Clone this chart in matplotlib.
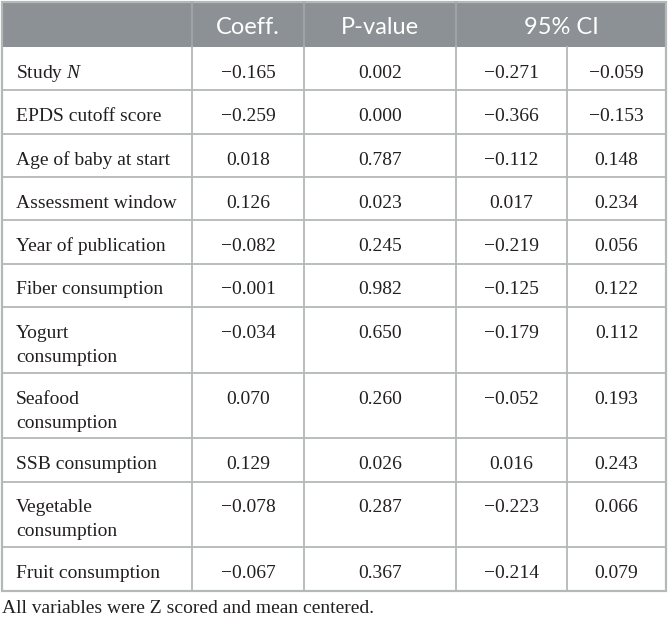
import matplotlib
matplotlib.use("Agg")
import matplotlib.pyplot as plt

# table content
variables = [r"Study $\mathit{N}$", "EPDS cutoff score", "Age of baby at start",
             "Assessment window", "Year of publication", "Fiber consumption",
             "Yogurt\nconsumption", "Seafood\nconsumption", "SSB consumption",
             "Vegetable\nconsumption", "Fruit consumption"]
coeff = ["\u22120.165", "\u22120.259", "0.018", "0.126", "\u22120.082", "\u22120.001",
         "\u22120.034", "0.070", "0.129", "\u22120.078", "\u22120.067"]
p_value = ["0.002", "0.000", "0.787", "0.023", "0.245", "0.982",
           "0.650", "0.260", "0.026", "0.287", "0.367"]
ci_low = ["\u22120.271", "\u22120.366", "\u22120.112", "0.017", "\u22120.219", "\u22120.125",
          "\u22120.179", "\u22120.052", "0.016", "\u22120.223", "\u22120.214"]
ci_high = ["\u22120.059", "\u22120.153", "0.148", "0.234", "0.056", "0.122",
           "0.112", "0.193", "0.243", "0.066", "0.079"]
headers = ["Coeff.", "P-value", "95% CI"]
footnote = "All variables were Z scored and mean centered."

plt.rcParams['mathtext.fontset'] = 'custom'
plt.rcParams['mathtext.rm'] = 'Liberation Serif'
plt.rcParams['mathtext.it'] = 'Liberation Serif:italic'

W, H = 668, 619
fig = plt.figure(figsize=(W / 100, H / 100), dpi=100)
ax = fig.add_axes([0, 0, 1, 1])
ax.set_xlim(0, W)
ax.set_ylim(H, 0)
ax.axis('off')

col_x = [2, 192, 304, 456, 567, 666]
top, head_bottom = 2, 47
single_h, double_h = 43.3, 65.7

header_grey = '#8b9194'
line_grey = '#b4b8b9'
text_col = '#231f20'
body_font = dict(family='Liberation Serif', fontsize=14, color=text_col)

# header band
ax.add_patch(plt.Rectangle((col_x[0], top), col_x[-1] - col_x[0], head_bottom - top,
                           facecolor=header_grey, edgecolor='none'))
for x in col_x[1:4]:
    ax.plot([x, x], [top, head_bottom], color='#a4a9ab', lw=1.2)
head_centres = [(col_x[1] + col_x[2]) / 2, (col_x[2] + col_x[3]) / 2, (col_x[3] + col_x[5]) / 2]
for label, cx in zip(headers, head_centres):
    ax.text(cx, 34, label, ha='center', va='baseline', color='white',
            family='Lato', fontsize=17)

# body rows
y = head_bottom
row_edges = [y]
for i, name in enumerate(variables):
    nlines = name.count('\n') + 1
    h = single_h if nlines == 1 else double_h
    base = y + 31
    for k, part in enumerate(name.split('\n')):
        ax.text(col_x[0] + 14, base + 24 * k, part, ha='left', va='baseline', **body_font)
    for j, vals in enumerate([coeff, p_value, ci_low, ci_high]):
        cx = (col_x[j + 1] + col_x[j + 2]) / 2
        ax.text(cx, base, vals[i], ha='center', va='baseline', **body_font)
    y += h
    row_edges.append(y)

for ye in row_edges[1:-1]:
    ax.plot([col_x[0], col_x[-1]], [ye, ye], color=line_grey, lw=1.3)
for x in col_x[1:-1]:
    ax.plot([x, x], [head_bottom, row_edges[-1]], color=line_grey, lw=1.3)

# outer frame
ax.add_patch(plt.Rectangle((col_x[0], top), col_x[-1] - col_x[0], row_edges[-1] - top,
                           facecolor='none', edgecolor=line_grey, lw=1.6))

ax.text(col_x[0], 613, footnote, ha='left', va='baseline', **body_font)

fig.savefig('out.png', dpi=100)
